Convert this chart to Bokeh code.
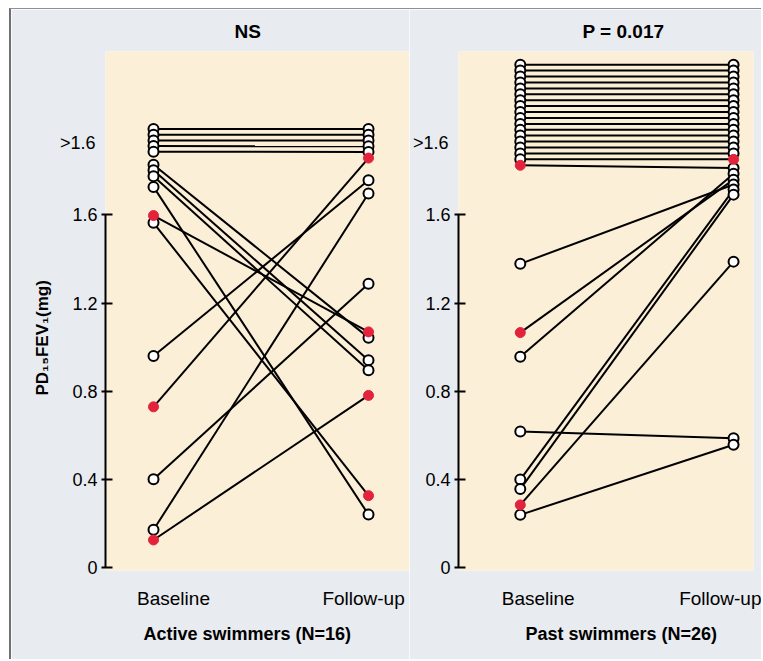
from bokeh.plotting import figure
from bokeh.models import ColumnDataSource, Range1d, FixedTicker, LinearAxis, Title
from bokeh.layouts import row
from bokeh.embed import file_html
from bokeh.resources import INLINE

# ---------------- data (values above 1.6 are plotting positions in the ">1.6" band)
categories = ["Baseline", "Follow-up"]
cat_pos = [0, 1]
y_ticks = [0, 0.4, 0.8, 1.2, 1.6]
y_tick_labels = ["0", "0.4", "0.8", "1.2", "1.6"]
above_label = ">1.6"
above_pos = 1.926

active_baseline = [1.990, 1.964, 1.938, 1.913, 1.887, 1.828, 1.803, 1.775, 1.727,
                   1.597, 1.564, 0.960, 0.729, 0.400, 0.171, 0.125]
active_followup = [1.990, 1.964, 1.938, 1.911, 1.886, 1.043, 0.941, 0.895, 0.240,
                   1.069, 0.326, 1.757, 1.858, 1.288, 1.697, 0.781]
active_baseline_red = [False, False, False, False, False, False, False, False, False,
                       True, False, False, True, False, False, True]
active_followup_red = [False, False, False, False, False, False, False, False, False,
                       True, True, False, True, False, False, True]

past_baseline = [2.281, 2.255, 2.228, 2.201, 2.174, 2.147, 2.120, 2.094, 2.067, 2.040,
                 2.013, 1.986, 1.960, 1.933, 1.906, 1.879, 1.852, 1.825,
                 0.956, 1.066, 1.378, 0.399, 0.356, 0.284, 0.617, 0.239]
past_followup = [2.281, 2.255, 2.228, 2.201, 2.174, 2.147, 2.120, 2.094, 2.067, 2.040,
                 2.013, 1.986, 1.960, 1.933, 1.906, 1.879, 1.852, 1.813,
                 1.787, 1.760, 1.738, 1.715, 1.692, 1.388, 0.587, 0.557]
past_baseline_red = [False] * 17 + [True, False, True, False, False, False, True, False, False]
past_followup_red = [False] * 16 + [True] + [False] * 9

panel_titles = ["NS", "P = 0.017"]
group_titles = ["Active swimmers (N=16)", "Past swimmers (N=26)"]
y_title = "PD\u2081\u2085FEV\u2081(mg)"

# ---------------- style
GREY = "#e8ebef"
BEIGE = "#fcefd8"
RED = "#e3233b"
FONT = "Liberation Sans"
Y0, Y1 = -0.0136, 2.3415
HEIGHT = 650


def panel(base, fol, base_red, fol_red, x0, x1, width, left_border, right_border,
          top_title, top_offset, bottom_title, bottom_offset, lab_x, with_ylabel):
    p = figure(width=width, height=HEIGHT, x_range=Range1d(x0, x1), y_range=Range1d(Y0, Y1),
               output_backend="svg", toolbar_location=None, x_axis_location="below",
               min_border_left=left_border, min_border_right=right_border,
               min_border_top=41, min_border_bottom=HEIGHT - 41 - 520,
               background_fill_color=BEIGE, border_fill_color=GREY,
               outline_line_color=None)
    p.grid.visible = False

    # main axis: line, ticks and labels, 0 .. 1.6 only
    ax = p.yaxis[0]
    ax.ticker = FixedTicker(ticks=y_ticks)
    ax.major_label_overrides = {t: s for t, s in zip(y_ticks, y_tick_labels)}
    ax.bounds = (0, 1.6)
    ax.axis_line_width = 2
    ax.major_tick_line_width = 2
    ax.major_tick_out = 4
    ax.major_tick_in = 7
    ax.minor_tick_line_color = None
    ax.major_label_standoff = 4
    ax.major_label_text_font = FONT
    ax.major_label_text_font_size = "18px"
    ax.major_label_text_color = "black"

    # ">1.6" band label, pulled back in line with the other tick labels
    lab = LinearAxis(ticker=FixedTicker(ticks=[above_pos]),
                     major_label_overrides={above_pos: above_label},
                     axis_line_color=None, major_tick_line_color=None,
                     minor_tick_line_color=None, major_tick_out=0, major_tick_in=0,
                     major_label_standoff=-26,
                     major_label_text_font=FONT, major_label_text_font_size="18px",
                     major_label_text_color="black")
    p.add_layout(lab, "left")

    # x axis: category labels only
    xa = p.xaxis[0]
    xa.ticker = FixedTicker(ticks=lab_x)
    xa.major_label_overrides = {t: s for t, s in zip(lab_x, categories)}
    xa.axis_line_color = None
    xa.major_tick_line_color = None
    xa.minor_tick_line_color = None
    xa.major_tick_out = 0
    xa.major_label_standoff = 17
    xa.major_label_text_font = FONT
    xa.major_label_text_font_size = "19px"
    xa.major_label_text_color = "black"

    n = len(base)
    src = ColumnDataSource(dict(x0=[cat_pos[0]] * n, x1=[cat_pos[1]] * n, b=base, f=fol))
    p.segment(x0="x0", y0="b", x1="x1", y1="f", source=src, line_color="black", line_width=2)

    for xpos, vals, reds in ((cat_pos[0], base, base_red), (cat_pos[1], fol, fol_red)):
        open_y = [v for v, r in zip(vals, reds) if not r]
        red_y = [v for v, r in zip(vals, reds) if r]
        p.scatter(x=[xpos] * len(open_y), y=open_y, size=10, fill_color="white",
                  line_color="black", line_width=2)
        p.scatter(x=[xpos] * len(red_y), y=red_y, size=10, fill_color=RED,
                  line_color=RED, line_width=1)

    p.title.text = top_title
    p.title.align = "left"
    p.title.offset = top_offset
    p.title.standoff = 19
    p.title.text_font = FONT
    p.title.text_font_size = "19px"
    p.title.text_font_style = "bold"
    p.title.text_color = "black"

    p.add_layout(Title(text=bottom_title, align="left", offset=bottom_offset, standoff=21,
                       text_font=FONT, text_font_size="18px", text_font_style="bold",
                       text_color="black"), "below")
    if with_ylabel:
        p.add_layout(Title(text=y_title, align="left", offset=175, standoff=9,
                           text_font=FONT, text_font_size="17px", text_font_style="bold",
                           text_color="black"), "left")
    return p


p1 = panel(active_baseline, active_followup, active_baseline_red, active_followup_red,
           -0.2233, -0.2233 + 304 / 215, 398, 94, 0,
           panel_titles[0], 129, group_titles[0], 38, [0.093, 0.977], True)
p2 = panel(past_baseline, past_followup, past_baseline_red, past_followup_red,
           -0.2897, -0.2897 + 296 / 214, 352, 48, 8,
           panel_titles[1], 124, group_titles[1], 67, [0.084, 0.939], False)

layout = row(p1, p2, spacing=0,
             styles={"margin-left": "9px", "margin-top": "8px",
                     "border-left": "2px solid #707070", "border-top": "1px solid #909090"})

open("out.html", "w").write(file_html(layout, INLINE))
